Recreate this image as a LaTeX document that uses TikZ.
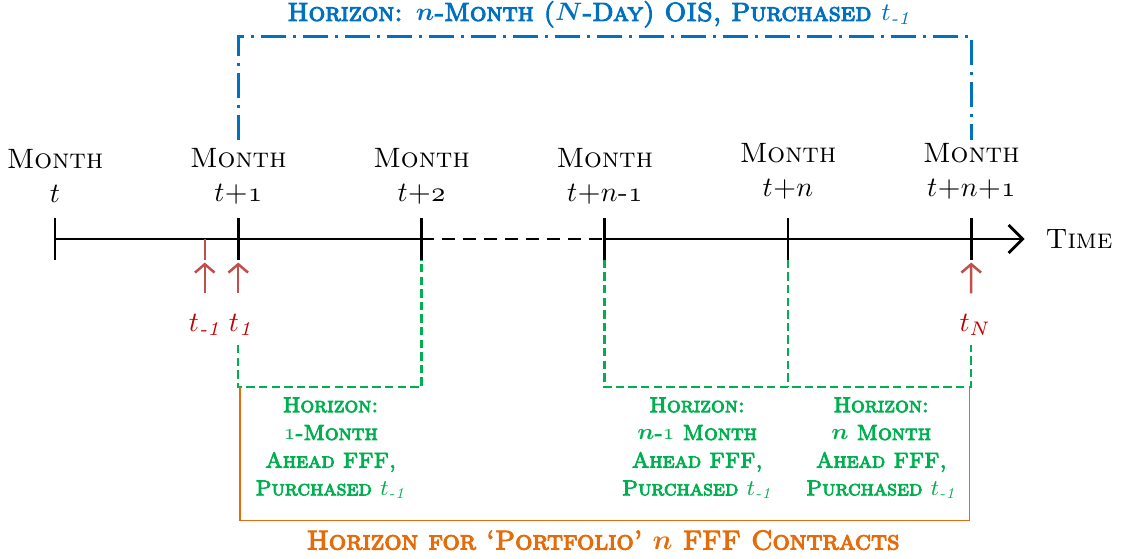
\documentclass[tikz,border=0pt]{standalone}
\usepackage{fontspec}
\usepackage{amsmath}
\usetikzlibrary{positioning,arrows.meta}

\newfontfamily\boldsc{lmromancaps10-regular.otf}[FakeBold=4]
\newcommand\osn[1]{{\fontencoding{OML}\fontfamily{cmm}\fontseries{m}\fontshape{it}\selectfont #1}}
\newcommand\tsub[1]{{\unboldmath$t_{\text{\normalfont\itshape #1}}$}}

\definecolor{ois}{RGB}{0,112,192}
\definecolor{fff}{RGB}{0,176,80}
\definecolor{port}{RGB}{228,108,10}
\definecolor{purch}{RGB}{192,80,77}
\definecolor{purchtxt}{RGB}{192,0,0}

\begin{document}
\begin{tikzpicture}
   \tikzstyle{every node}=[inner sep=1pt]
   \tikzstyle{month}=[align=center, font=\scshape]
   \tikzstyle{tick}=[line width=1pt]
   \tikzstyle{purch}=[line width=0.9pt, draw=purch, -{Straight Barb[length=3pt,width=7pt]}]
   \tikzstyle{purchlbl}=[text=purchtxt]
   \tikzstyle{fffline}=[draw=fff, line width=0.9pt, dash pattern=on 3pt off 1.5pt]
   \tikzstyle{fffnote}=[align=center, text=fff, font=\fontsize{7.7}{9.9}\boldsc\boldmath]
   \tikzstyle{oisline}=[draw=ois, line width=1pt, dash pattern=on 9pt off 2.5pt on 1pt off 2.5pt]
   \tikzstyle{portline}=[draw=port, line width=0.5pt]

   \useasboundingbox (-0.69,-4.016) rectangle (13.38,3.0);

   \foreach \i in {0,...,5} {
      \coordinate (m\i) at (2.3*\i,0);
      \coordinate (a\i) at (2.3*\i,0.26);
      \coordinate (b\i) at (2.3*\i,-0.26);
      \draw[tick] (a\i) -- (b\i);
   }
   \coordinate (tend) at (12.17,0);
   \draw[tick] (m0) -- (m2);
   \draw[tick, dash pattern=on 4.5pt off 3pt] (m2) -- (m3);
   \draw[tick, -{Straight Barb[length=5pt,width=10pt]}] (m3) -- (tend);
   \node[month, right=0.22cm of tend] (time) {Time};

   \foreach \i/\y/\lab in {0/0.79/$t$, 1/0.79/{$t$+\osn{1}}, 2/0.79/{$t$+\osn{2}},
                          3/0.79/{$t$+$n$-\osn{1}}, 4/0.85/{$t$+$n$}, 5/0.85/{$t$+$n$+\osn{1}}}
      \node[month] (mon\i) at (2.3*\i,\y) {Month\\\lab};

   \coordinate (tm) at (1.88,0);
   \coordinate (tmb) at (1.88,-0.26);
   \draw[purch, line width=0.7pt, -] (tm) -- (tmb);
   \node[purchlbl] (lm1) at (1.88,-1.08) {\tsub{-1}};
   \node[purchlbl] (l1) at (2.33,-1.08) {\tsub{1}};
   \node[purchlbl] (lN) at (11.55,-1.08) {$t_N$};
   \draw[purch] ([yshift=0.22cm]lm1.north) -- ([yshift=-1pt]tmb);
   \draw[purch] ([xshift=-0.03cm,yshift=0.22cm]l1.north) -- ([yshift=-1pt]b1);
   \draw[purch] ([xshift=-0.05cm,yshift=0.22cm]lN.north) -- ([yshift=-1pt]b5);

   \coordinate (gb) at (0,-1.86);
   \coordinate (g1) at (2.3,-1.33);
   \coordinate (g5) at (11.5,-1.33);
   \draw[fffline] (g1) |- (b2 |- gb) -- (b2);
   \draw[fffline] (b3) |- (g5 |- gb) -- (g5);
   \draw[fffline] (b4) -- (b4 |- gb);

   \coordinate (p0) at (2.32,-1.86);
   \coordinate (p1) at (11.48,-1.86);
   \draw[portline] (p0) |- ([yshift=-1.67cm]p1) -- (p1);

   \coordinate (o1) at (2.3,1.24);
   \coordinate (o5) at (11.5,1.24);
   \draw[oisline] (o1) |- ([yshift=1.3cm]o5) -- (o5);

   \node[font=\fontsize{9.3}{11}\boldsc\boldmath, text=ois] (oislbl) at (6.83,2.82)
      {Horizon: $n$-Month ($N$-Day) OIS, Purchased \tsub{-1}};
   \node[font=\fontsize{9.7}{11}\boldsc\boldmath, text=port] (portlbl) at (6.88,-3.78)
      {Horizon for ‘Portfolio’ $n$ FFF Contracts};

   \node[fffnote] (h1) at (3.46,-2.62) {Horizon:\\\osn{1}-Month\\Ahead FFF,\\Purchased \tsub{-1}};
   \node[fffnote] (h2) at (8.06,-2.62) {Horizon:\\$n$-\osn{1} Month\\Ahead FFF,\\Purchased \tsub{-1}};
   \node[fffnote] (h3) at (10.37,-2.62) {Horizon:\\$n$ Month\\Ahead FFF,\\Purchased \tsub{-1}};

\end{tikzpicture}
\end{document}
